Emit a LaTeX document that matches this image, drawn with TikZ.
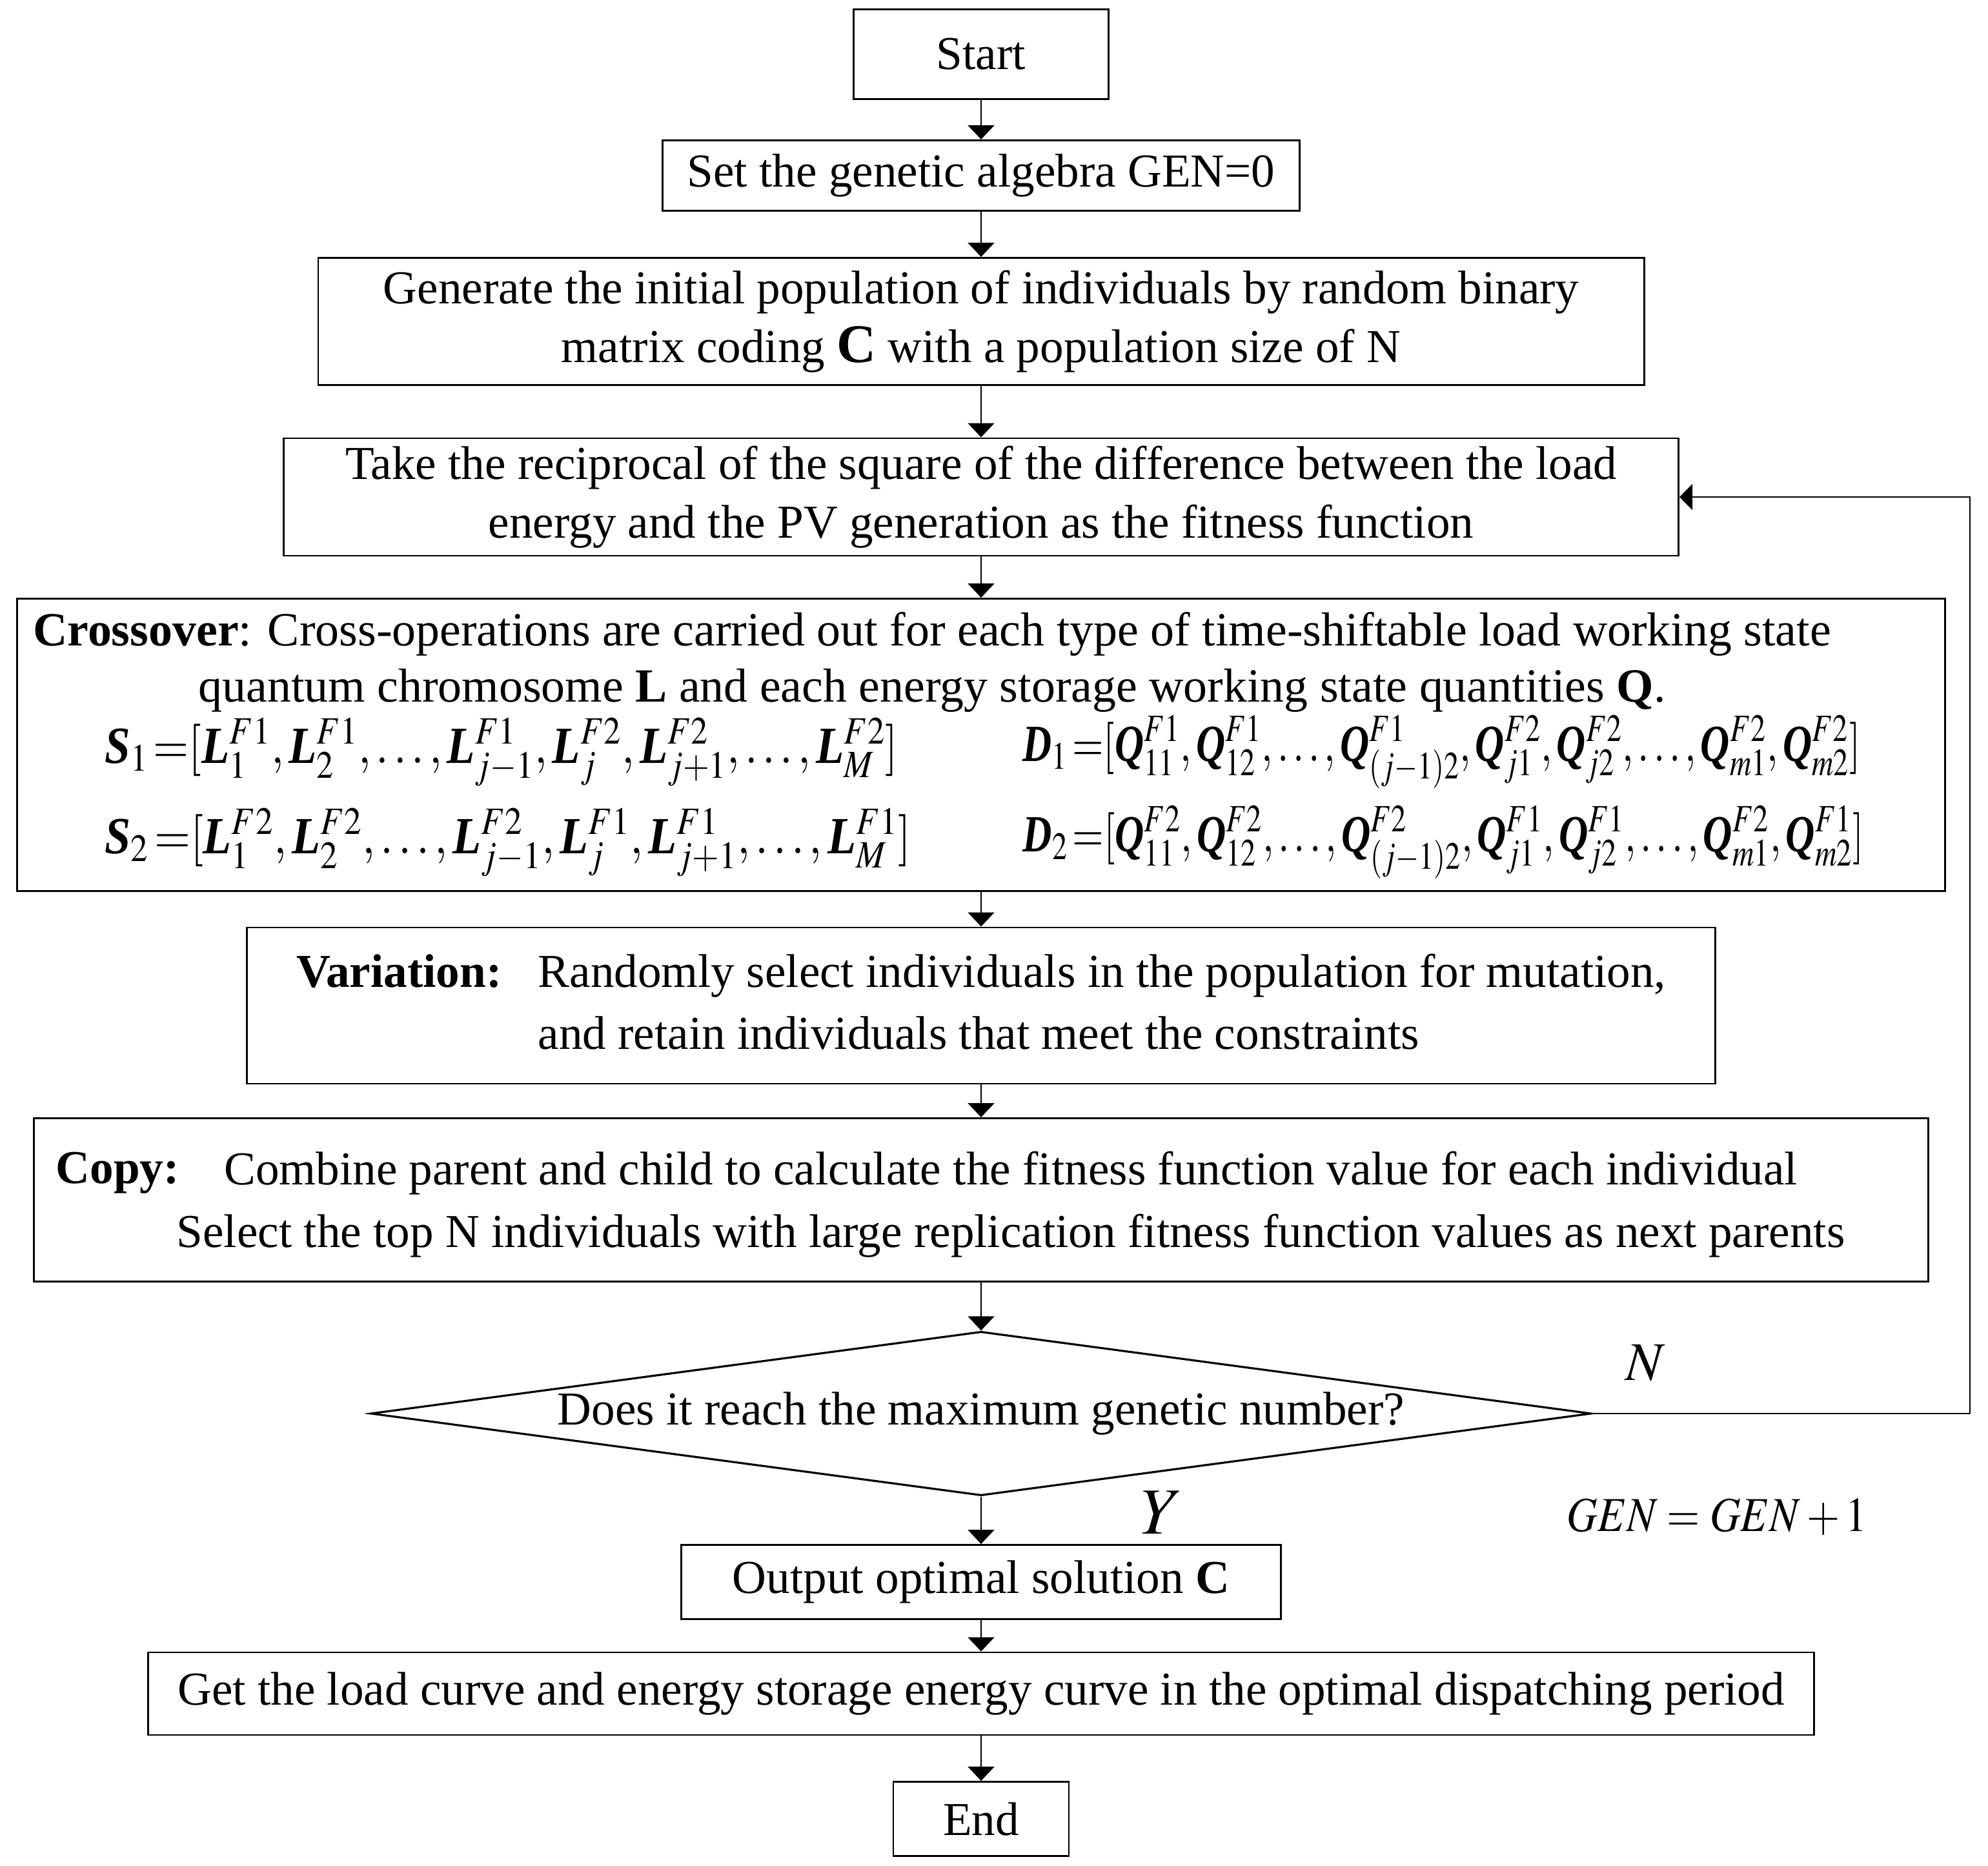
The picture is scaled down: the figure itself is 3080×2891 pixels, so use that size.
\documentclass[tikz,border=0pt]{standalone}
\usepackage{mathptmx}
\usepackage{amsmath}
\usepackage[no-math]{fontspec}
\setmainfont{Liberation Serif}
\usetikzlibrary{shapes.geometric,arrows.meta}

\newcommand{\bi}[1]{\textbf{\textit{#1}}}
\newcommand{\fitw}[2]{\resizebox{#1}{\height}{#2}}

\begin{document}
\begin{tikzpicture}[x=0.01cm,y=-0.01cm]

      \useasboundingbox (0,0) rectangle (3080,2891);

      \begin{scope}[every node/.style={draw,line width=0.8pt,align=center,inner sep=0pt,font=\fontsize{20.8}{26}\selectfont}]
        \node[minimum width=3.94cm,minimum height=1.39cm] (start) at (1520,84) {Start};
        \node[minimum width=9.87cm,minimum height=1.09cm] (gen0) at (1520,272) {Set the genetic algebra GEN=0};
        \node[minimum width=20.53cm,minimum height=1.97cm] (init) at (1520,498) {Generate the initial population of individuals by random binary\\matrix coding {\fontsize{24}{26}\selectfont\textbf{C}} with a population size of N};
        \node[minimum width=21.60cm,minimum height=1.82cm] (fit) at (1520,770) {Take the reciprocal of the square of the difference between the load\\energy and the PV generation as the fitness function};
        \node[minimum width=29.86cm,minimum height=4.53cm] (cross) at (1520,1154) {};
        \node[minimum width=22.74cm,minimum height=2.42cm] (vari) at (1520,1558) {%
          \renewcommand{\arraystretch}{1.05}%
          \begin{tabular}{@{}l@{\hspace{16pt}}l@{}}
            \textbf{Variation:} & Randomly select individuals in the population for mutation,\\
            & and retain individuals that meet the constraints
          \end{tabular}};
        \node[minimum width=29.33cm,minimum height=2.53cm] (copy) at (1520,1859) {};
        \node[shape=diamond,shape aspect=7.4,minimum width=18.9cm,minimum height=2.54cm,line width=0.9pt] (reach) at (1520,2190) {Does it reach the maximum genetic number?};
        \node[minimum width=9.28cm,minimum height=1.15cm] (out) at (1520,2451) {Output optimal solution \textbf{C}};
        \node[minimum width=25.80cm,minimum height=1.28cm] (curve) at (1520,2624) {Get the load curve and energy storage energy curve in the optimal dispatching period};
        \node[minimum width=2.72cm,minimum height=1.15cm] (stop) at (1520,2818) {End};
      \end{scope}

      % texts inside the crossover and copy boxes
      \begin{scope}[every node/.style={inner sep=0pt,align=center,font=\fontsize{21}{24.7}\selectfont}]
        \node (crosstxt) at (1444,1026) {\textbf{Crossover}: Cross-operations are carried out for each type of time-shiftable load working state\\quantum chromosome \textbf{L} and each energy storage working state quantities \textbf{Q}.};
        \node[anchor=west,font=\fontsize{23}{26}\selectfont] (s1) at (162,1165) {\fitw{12.28cm}{$\bi{S}_1\,{=}[\bi{L}_1^{F1},\bi{L}_2^{F1},\ldots,\bi{L}_{j-1}^{F1},\bi{L}_j^{F2},\bi{L}_{j+1}^{F2},\ldots,\bi{L}_M^{F2}]$}};
        \node[anchor=west,font=\fontsize{23}{26}\selectfont] (s2) at (162,1305) {\fitw{12.48cm}{$\bi{S}_2\,{=}[\bi{L}_1^{F2},\bi{L}_2^{F2},\ldots,\bi{L}_{j-1}^{F2},\bi{L}_j^{F1},\bi{L}_{j+1}^{F1},\ldots,\bi{L}_M^{F1}]$}};
        \node[anchor=west,font=\fontsize{23}{26}\selectfont] (d1) at (1584,1165) {\fitw{12.97cm}{$\bi{D}_1\,{=}[\bi{Q}_{11}^{F1},\bi{Q}_{12}^{F1},\ldots,\bi{Q}_{(j-1)2}^{F1},\bi{Q}_{j1}^{F2},\bi{Q}_{j2}^{F2},\ldots,\bi{Q}_{m1}^{F2},\bi{Q}_{m2}^{F2}]$}};
        \node[anchor=west,font=\fontsize{23}{26}\selectfont] (d2) at (1584,1305) {\fitw{13.02cm}{$\bi{D}_2\,{=}[\bi{Q}_{11}^{F2},\bi{Q}_{12}^{F2},\ldots,\bi{Q}_{(j-1)2}^{F2},\bi{Q}_{j1}^{F1},\bi{Q}_{j2}^{F1},\ldots,\bi{Q}_{m1}^{F2},\bi{Q}_{m2}^{F1}]$}};
        \node[anchor=base west,font=\fontsize{20.8}{26}\selectfont] (copylbl) at (86,1833) {\textbf{Copy:}};
        \node[font=\fontsize{20.8}{27.6}\selectfont] (copytxt) at (1566,1866) {Combine parent and child to calculate the fitness function value for each individual\\Select the top N individuals with large replication fitness function values as next parents};
      \end{scope}

      % labels of the loop
      \begin{scope}[every node/.style={inner sep=0pt}]
        \node[font=\fontsize{24}{26}\selectfont] (no) at (2549,2112) {$N$};
        \node[font=\fontsize{29}{30}\selectfont] (yes) at (1800,2343) {$Y$};
        \node[font=\fontsize{21.5}{24}\selectfont] (count) at (2660,2350) {\fitw{4.65cm}{$GEN=GEN+1$}};
      \end{scope}

      \coordinate (back) at (3052,2190);

      \begin{scope}[every edge/.style={draw,line width=0.6pt,-{Triangle[length=2.2mm,width=4.1mm]}}]
        \path (start) edge (gen0);
        \path (gen0)  edge (init);
        \path (init)  edge (fit);
        \path (fit)   edge (cross);
        \path (cross) edge (vari);
        \path (vari)  edge (copy);
        \path (copy)  edge (reach);
        \path (reach) edge (out);
        \path (out)   edge (curve);
        \path (curve) edge (stop);
      \end{scope}

      \draw[line width=0.7pt,-{Triangle[length=2.0mm,width=4.0mm]}] (reach.east) -- (back) |- (fit.east);

    \end{tikzpicture}
\end{document}
